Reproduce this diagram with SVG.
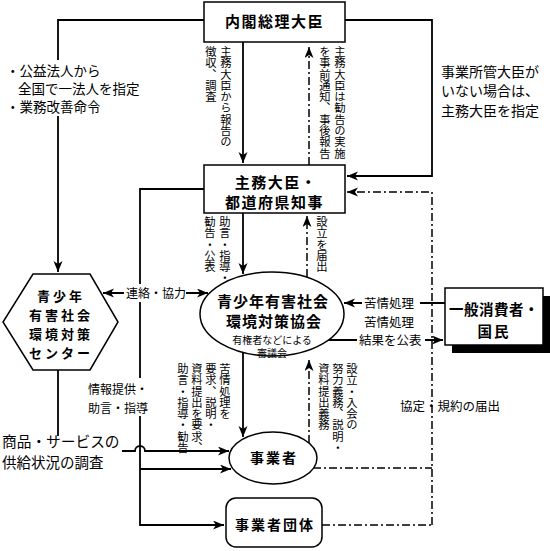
<svg xmlns="http://www.w3.org/2000/svg" width="550" height="551" viewBox="0 0 550 551">
<style>
text{font-family:"Noto Sans CJK JP","Noto Sans",sans-serif;fill:#000}
.t{font-size:14px}
.s{font-size:12.5px}
.b{font-size:15px;font-weight:bold;letter-spacing:1.5px}
.v{font-size:11.3px;writing-mode:vertical-rl}
.box{fill:#fff;stroke:#000;stroke-width:1.5}
.ln{fill:none;stroke:#000;stroke-width:1.8}
.dd{fill:none;stroke:#000;stroke-width:1.5;stroke-dasharray:8 3 2 3}
.bg{fill:#fff}
.hx{font-size:13px;font-weight:bold;letter-spacing:3px}
</style>
<defs>
<marker id="ah" markerUnits="userSpaceOnUse" markerWidth="12" markerHeight="10" refX="11" refY="4.5" orient="auto">
<path d="M0,0 L11,4.5 L0,9 L3,4.5 z" fill="#000"/>
</marker>
</defs>
<g id="connectors">
<path class="ln" d="M204,20 H58 V272" marker-end="url(#ah)"/>
<path class="ln" d="M345,20 H432 V176 H347" marker-end="url(#ah)"/>
<path class="ln" d="M243,42 V163" marker-end="url(#ah)"/>
<path class="dd" d="M309,165 V47" marker-end="url(#ah)"/>
<path class="ln" d="M243,213 V274" marker-end="url(#ah)"/>
<path class="dd" d="M307,277 V216" marker-end="url(#ah)"/>
<path class="ln" d="M204,189 H140 V525 H224" marker-end="url(#ah)"/>
<path class="ln" d="M243,353 V437" marker-end="url(#ah)"/>
<path class="dd" d="M309,443 V360" marker-end="url(#ah)"/>
<path class="ln" d="M150,293 H103" marker-end="url(#ah)"/>
<path class="ln" d="M170,293 H208" marker-end="url(#ah)"/>
<path class="ln" d="M58,370 V436"/>
<path class="ln" d="M122,451 H135 A5,5 0 0 1 145,451 H229" marker-end="url(#ah)"/>
<path class="ln" d="M140,469 H231" marker-end="url(#ah)"/>
<path class="dd" d="M432,525 V192 H347" marker-end="url(#ah)"/>
<path class="dd" d="M313,468 H432"/>
<path class="dd" d="M322,525 H432"/>
<path class="ln" d="M445,303 H344" marker-end="url(#ah)"/>
<path class="ln" d="M328,340 H443" marker-end="url(#ah)"/>
</g>
<g id="labels">
<rect class="bg" x="4" y="60" width="150" height="56"/>
<text class="t" x="6" y="76" style="font-size:13.5px">・公益法人から</text>
<text class="t" x="18" y="94" style="font-size:13.5px">全国で一法人を指定</text>
<text class="t" x="6" y="112" style="font-size:13.5px">・業務改善命令</text>
<text class="t" x="441" y="77">事業所管大臣が</text>
<text class="t" x="441" y="96">いない場合は、</text>
<text class="t" x="441" y="116">主務大臣を指定</text>
<text class="v" x="226" y="46">主務大臣から報告の</text>
<text class="v" x="211" y="46">徴収、調査</text>
<text class="v" x="340" y="46">主務大臣は勧告の実施</text>
<text class="v" x="325" y="46">を事前通知、事後報告</text>
<text class="v" x="225" y="216">助言・指導・</text>
<text class="v" x="210" y="216">勧告・公表</text>
<text class="v" x="322" y="216">設立を届出</text>
<rect class="bg" x="124" y="284" width="62" height="18"/>
<text class="s" x="126" y="298" style="font-size:12px">連絡・協力</text>
<rect class="bg" x="86" y="378" width="66" height="38"/>
<text class="s" x="88" y="394" style="font-size:12px">情報提供・</text>
<text class="s" x="88" y="413" style="font-size:12px">助言・指導</text>
<text class="v" x="225" y="363">苦情処理を</text>
<text class="v" x="211" y="363">要求、説明・</text>
<text class="v" x="197" y="363">資料提出を要求、</text>
<text class="v" x="183" y="363">助言・指導・勧告</text>
<text class="v" x="352" y="363">設立・入会の</text>
<text class="v" x="338" y="363">努力義務、説明・</text>
<text class="v" x="324" y="363">資料提出義務</text>
<rect class="bg" x="362" y="295" width="58" height="16"/>
<text class="s" x="364" y="308">苦情処理</text>
<text class="s" x="364" y="327">苦情処理</text>
<rect class="bg" x="357" y="333" width="68" height="15"/>
<text class="s" x="359" y="345">結果を公表</text>
<text class="s" x="400" y="411">協定・規約の届出</text>
<text class="t" x="2" y="447" style="font-size:14.7px">商品・サービスの</text>
<text class="t" x="2" y="468" style="font-size:14.5px">供給状況の調査</text>
</g>
<g id="pm">
<rect class="box" x="204" y="2" width="141" height="40"/>
<text class="b" x="274.5" y="27" text-anchor="middle">内閣総理大臣</text>
</g>
<g id="minister">
<rect class="box" x="204" y="165" width="141" height="48"/>
<text class="b" x="276" y="188" text-anchor="middle">主務大臣・</text>
<text class="b" x="274.5" y="208" text-anchor="middle">都道府県知事</text>
</g>
<g id="center">
<polygon class="box" points="33,274 90,274 118,322 90,370 33,370 3,322"/>
<text class="hx" x="61" y="301" text-anchor="middle">青少年</text>
<text class="hx" x="61" y="320" text-anchor="middle">有害社会</text>
<text class="hx" x="61" y="339" text-anchor="middle">環境対策</text>
<text class="hx" x="61" y="358" text-anchor="middle">センター</text>
</g>
<g id="council">
<ellipse class="box" cx="272" cy="314" rx="72" ry="42"/>
<text class="b" x="273" y="307" text-anchor="middle" style="letter-spacing:1px">青少年有害社会</text>
<text class="b" x="274" y="327" text-anchor="middle" style="letter-spacing:1px">環境対策協会</text>
<text x="272" y="344" text-anchor="middle" style="font-size:10px">有権者などによる</text>
<text x="272" y="357" text-anchor="middle" style="font-size:10px">審議会</text>
</g>
<g id="consumer">
<rect x="452" y="296" width="98" height="57" fill="#000"/>
<rect class="box" x="445" y="288" width="98" height="57"/>
<text class="b" x="494" y="315" text-anchor="middle" style="font-size:14.5px;letter-spacing:0.5px">一般消費者・</text>
<text class="b" x="494" y="337" text-anchor="middle" style="font-size:14.5px;letter-spacing:2px">国民</text>
</g>
<g id="business">
<ellipse class="box" cx="273" cy="458" rx="44" ry="26"/>
<text class="b" x="274" y="463" text-anchor="middle" style="font-size:14px;letter-spacing:2px">事業者</text>
</g>
<g id="association">
<rect class="box" x="226" y="498" width="96" height="49" rx="10"/>
<text class="b" x="275" y="530" text-anchor="middle" style="font-size:14px;letter-spacing:2px">事業者団体</text>
</g>
</svg>
